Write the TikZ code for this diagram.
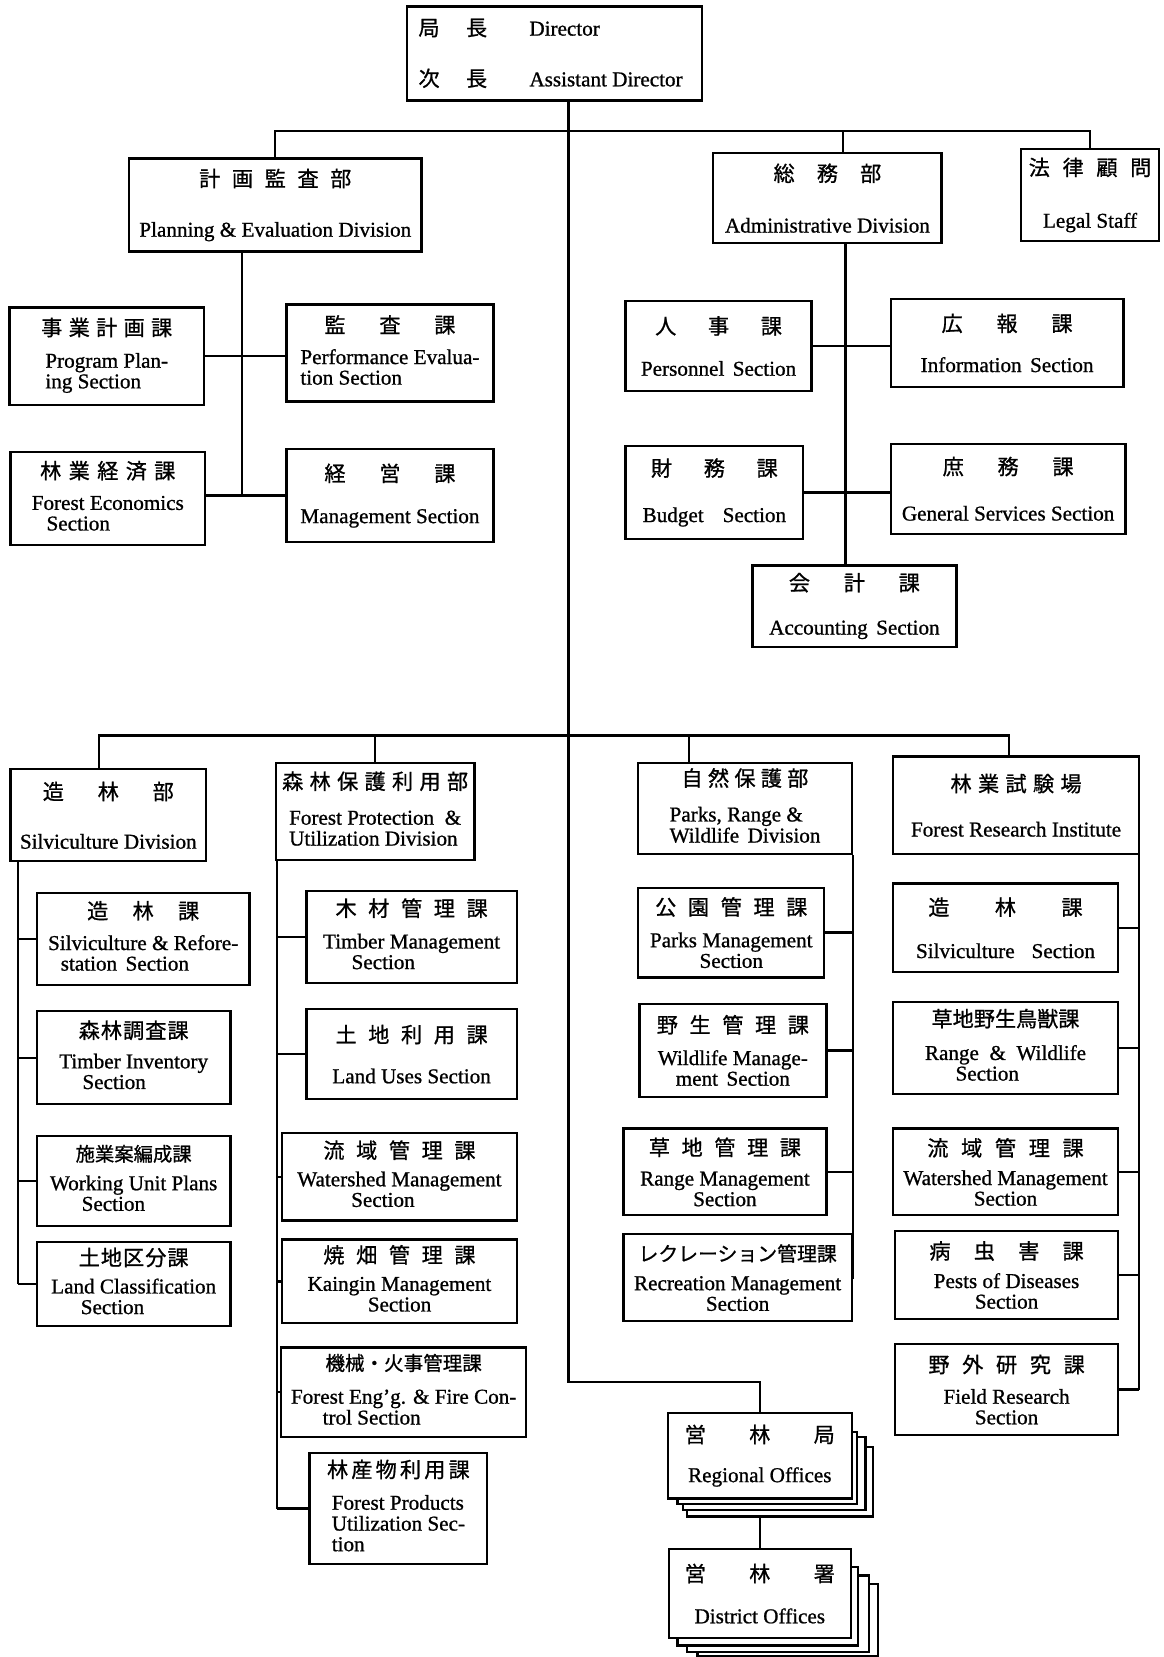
\documentclass[tikz,border=0pt]{standalone}
\usepackage{fontspec}
\setmainfont{Liberation Serif}[FakeBold=0.9]
\newfontfamily\jp{Noto Sans CJK JP}[FakeBold=0.9]
\newcommand\jg[1]{\hspace{#1pt}}
\newcommand\lft[1]{\begin{tabular}[t]{@{}l@{}}#1\end{tabular}}
\tikzset{
  obx/.style={draw, line width=2.2pt, fill=white, inner sep=1pt, align=center,
    font=\fontsize{20}{19.5}\selectfont},
  ln/.style={line width=2.2pt}
}
\newcommand\obox[8]{\node[obx, minimum width={#4pt-#2pt}, minimum height={#5pt-#3pt}] (#1) at ({(#2+#4)/2},{(#3+#5)/2}) {{\jp #7}\\[\dimexpr #6pt-21pt\relax]#8};}
\begin{document}
\begin{tikzpicture}[x=1pt,y=-1pt]
\path[fill=white,use as bounding box] (0,0) rectangle (1101,1568);

% Director
\node[obx, minimum width=279pt, minimum height=89pt] (dir) at (524.5,50.5)
 {\makebox[65pt][l]{\jp 局\jg{25}長}\hspace{40pt}\makebox[152pt][l]{Director}\\[28.5pt]
  \makebox[65pt][l]{\jp 次\jg{25}長}\hspace{40pt}\makebox[152pt][l]{Assistant Director}};

% upper divisions
\obox{plan}{122}{150}{399}{238}{49}{計\jg{11}画\jg{11}監\jg{11}査\jg{11}部}{Planning \& Evaluation Division}
\obox{admin}{675}{145}{891}{230}{50}{総\jg{21}務\jg{21}部}{Administrative Division}
\obox{legal}{966}{141}{1097}{228}{51}{法\jg{12}律\jg{12}顧\jg{12}問}{Legal Staff}

\obox{pp}{9}{291}{193}{383}{32}{事\jg{6}業\jg{6}計\jg{6}画\jg{6}課}{\lft{Program Plan-\\ing Section}}
\obox{pe}{271}{288}{467}{380}{31}{監\jg{32}査\jg{32}課}{\lft{Performance Evalua-\\tion Section}}
\obox{fe}{10}{428}{194}{516}{31}{林\jg{7}業\jg{7}経\jg{7}済\jg{7}課}{\lft{Forest Economics\\\hspace{14pt}Section}}
\obox{mg}{271}{425}{467}{513}{41}{経\jg{32}営\jg{32}課}{Management Section}

\obox{pers}{592}{285}{768}{370}{41}{人\jg{30}事\jg{30}課}{Personnel\hspace{8pt}Section}
\obox{info}{843}{283}{1063}{366}{40}{広\jg{32}報\jg{32}課}{Information\hspace{8pt}Section}
\obox{bud}{592}{422}{760}{510}{45}{財\jg{30}務\jg{30}課}{Budget\hspace{18pt}Section}
\obox{gen}{843}{420}{1065}{505}{45}{庶\jg{32}務\jg{32}課}{General Services Section}
\obox{acct}{712}{535}{905}{612}{43}{会\jg{32}計\jg{32}課}{Accounting\hspace{8pt}Section}

% lower divisions
\obox{silv}{10}{728}{195}{815}{48}{造\jg{32}林\jg{32}部}{Silviculture Division}
\obox{fp}{261}{722}{449}{814}{35}{森\jg{6}林\jg{6}保\jg{6}護\jg{6}利\jg{6}用\jg{6}部}{\lft{Forest Protection \ \&\\Utilization Division}}
\obox{parks}{604}{722}{806}{808}{35}{自\jg{5}然\jg{5}保\jg{5}護\jg{5}部}{\lft{Parks, Range \&\\Wildlife\hspace{8pt}Division}}
\obox{fri}{845}{716}{1078}{808}{44}{林\jg{6}業\jg{6}試\jg{6}験\jg{6}場}{Forest Research Institute}

% silviculture sections
\obox{sr}{35}{845}{236}{932}{31}{造\jg{23}林\jg{23}課}{\lft{Silviculture \& Refore-\\\hspace{12pt}station\hspace{8pt}Section}}
\obox{ti}{35}{957}{218}{1045}{30}{森\jg{1}林\jg{1}調\jg{1}査\jg{1}課}{\lft{Timber Inventory\\\hspace{22pt}Section}}
\obox{wu}{35}{1075}{218}{1160}{29}{\fontsize{18.3}{19.5}\selectfont 施業案編成課}{\lft{Working Unit Plans\\\hspace{30pt}Section}}
\obox{lc}{35}{1175}{218}{1255}{28}{土\jg{1}地\jg{1}区\jg{1}分\jg{1}課}{\lft{Land Classification\\\hspace{28pt}Section}}

% forest protection sections
\obox{tm}{290}{843}{489}{930}{32}{木\jg{11}材\jg{11}管\jg{11}理\jg{11}課}{\lft{Timber Management\\\hspace{27pt}Section}}
\obox{lu}{290}{955}{489}{1040}{40}{土\jg{11}地\jg{11}利\jg{11}用\jg{11}課}{Land Uses Section}
\obox{ws}{267}{1072}{489}{1155}{28}{流\jg{11}域\jg{11}管\jg{11}理\jg{11}課}{\lft{Watershed Management\\\hspace{51pt}Section}}
\obox{kg}{267}{1173}{489}{1252}{28}{焼\jg{11}畑\jg{11}管\jg{11}理\jg{11}課}{\lft{Kaingin Management\\\hspace{57pt}Section}}
\obox{feg}{266}{1275}{498}{1360}{33}{\fontsize{18.5}{19.5}\selectfont 機械・火事管理課}{\lft{Forest Eng'g. \& Fire Con-\\\hspace{30pt}trol Section}}
\obox{fpu}{293}{1375}{461}{1480}{32}{林\jg{3}産\jg{3}物\jg{3}利\jg{3}用\jg{3}課}{\lft{Forest Products\\Utilization Sec-\\tion}}

% parks sections
\obox{pm}{604}{840}{780}{925}{32}{公\jg{11}園\jg{11}管\jg{11}理\jg{11}課}{Parks Management\\Section}
\obox{wm}{605}{950}{782}{1038}{32}{野\jg{11}生\jg{11}管\jg{11}理\jg{11}課}{Wildlife Manage-\\ment\hspace{8pt}Section}
\obox{rm}{590}{1068}{782}{1150}{30}{草\jg{11}地\jg{11}管\jg{11}理\jg{11}課}{Range Management\\Section}
\obox{rec}{590}{1168}{806}{1250}{29}{\fontsize{18.8}{19.5}\selectfont レクレーション管理課}{Recreation Management\\Section}

% research institute sections
\obox{fs}{845}{836}{1058}{920}{42}{造\jg{43}林\jg{43}課}{Silviculture\hspace{16pt}Section}
\obox{rw}{845}{948}{1058}{1035}{33}{草地野生鳥獣課}{\lft{Range \ \& \ Wildlife\\\hspace{29pt}Section}}
\obox{fw}{845}{1068}{1058}{1150}{29}{流\jg{12}域\jg{12}管\jg{12}理\jg{12}課}{Watershed Management\\Section}
\obox{pd}{847}{1165}{1058}{1248}{29}{病\jg{22}虫\jg{22}害\jg{22}課}{Pests of Diseases\\Section}
\obox{fr}{847}{1272}{1058}{1358}{31}{野\jg{12}外\jg{12}研\jg{12}究\jg{12}課}{Field Research\\Section}

% regional offices (stacked sheets)
\draw[ln,fill=white] (650,1369) rectangle (826,1435);
\draw[ln,fill=white] (646,1360) rectangle (819,1429);
\draw[ln,fill=white] (641,1355) rectangle (811,1423);
\obox{reg}{632}{1337}{806}{1418}{39}{営\jg{41}林\jg{41}局}{Regional Offices}

% district offices (stacked sheets)
\draw[ln,fill=white] (660,1499) rectangle (831,1567);
\draw[ln,fill=white] (650,1491) rectangle (822,1563);
\draw[ln,fill=white] (641,1483) rectangle (812,1557);
\obox{dist}{633}{1466}{805}{1550}{41}{営\jg{41}林\jg{41}署}{District Offices}

% ---------------- connectors ----------------
\coordinate (tb) at (538,124);
\coordinate (tbA) at (798,124);
\coordinate (rj) at (538,1308);
\draw[ln] (dir.south -| tb) -- (rj) -| (reg.north);
\draw[ln] (plan.north) |- (tb) -| (legal.north);
\draw[ln] (tbA) -- (tbA |- admin.north);

\coordinate (lb1) at (94,696);
\coordinate (lb2) at (355,696);
\coordinate (lb3) at (652,696);
\coordinate (lb4) at (955,696);
\draw[ln] (lb1 |- silv.north) -- (lb1) -- (lb4) -- (lb4 |- fri.north);
\draw[ln] (lb2) -- (lb2 |- fp.north);
\draw[ln] (lb3) -- (lb3 |- parks.north);

% planning
\coordinate (pv) at (229,469);
\draw[ln] (plan.south -| pv) -- (pv);
\draw[ln] (pp.east) -- (pp.east -| pe.west);
\draw[ln] (fe.east |- pv) -- (mg.west |- pv);

% administrative
\coordinate (av) at (800,400);
\draw[ln] (admin.south -| av) -- (acct.north -| av);
\draw[ln] (pers.east) -- (pers.east -| info.west);
\draw[ln] (bud.east) -- (bud.east -| gen.west);

% silviculture
\coordinate (sv) at (17,800);
\draw[ln] (silv.south -| sv) -- (lc.west -| sv);
\foreach \n in {sr,ti,wu,lc} \draw[ln] (\n.west) -- (\n.west -| sv);

% forest protection
\coordinate (fv) at (262,800);
\draw[ln] (fp.south -| fv) -- (fpu.west -| fv);
\foreach \n in {tm,lu,ws,kg,feg,fpu} \draw[ln] (\n.west) -- (\n.west -| fv);

% parks
\coordinate (kv) at (807,800);
\draw[ln] (parks.south -| kv) -- (rec.east -| kv);
\foreach \n in {pm,wm,rm,rec} \draw[ln] (\n.east) -- (\n.east -| kv);

% research institute
\coordinate (rv) at (1078,800);
\draw[ln] (fri.south -| rv) -- (fr.east -| rv);
\foreach \n in {fs,rw,fw,pd,fr} \draw[ln] (\n.east) -- (\n.east -| rv);

% regional to district
\draw[ln] ([yshift=-17pt]reg.south) -- (dist.north);
\end{tikzpicture}
\end{document}
